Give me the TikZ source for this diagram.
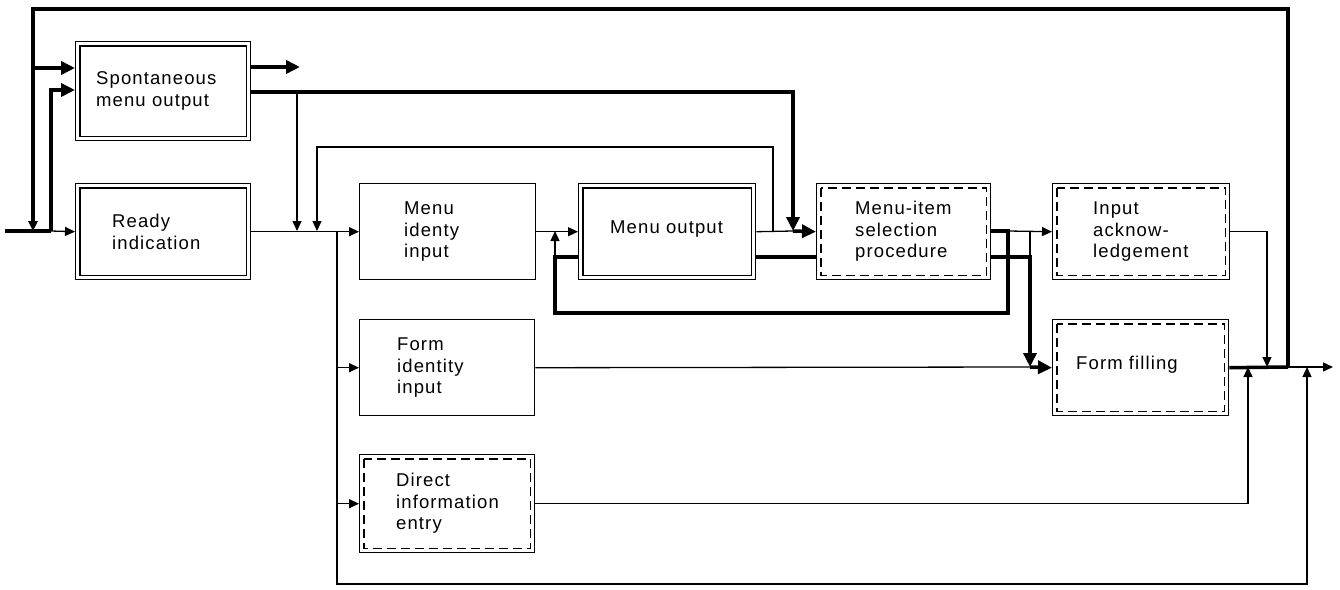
\documentclass[tikz,border=0pt]{standalone}
\usepackage{fontspec}
\setmainfont{Liberation Sans}[LetterSpace=6]
\usetikzlibrary{arrows.meta}
\tikzset{
  thinl/.style={line width=1.3pt},
  heavy/.style={line width=3.5pt},
  tip/.style={-{Triangle[length=10pt,width=9pt]}},
  bigtip/.style={-{Triangle[length=14pt,width=13pt]}},
  box/.style={draw, line width=1.4pt, anchor=north west, inner sep=0pt, minimum width=176pt, minimum height=96pt},
  innerdash/.style={line width=1.8pt, dash pattern=on 9pt off 5pt},
  innersolid/.style={line width=1.4pt},
  lbl/.style={anchor=west, align=left, inner sep=0pt, font=\fontsize{18.5}{21.5}\selectfont},
}
\begin{document}
\begin{tikzpicture}[x=1pt,y=-1pt]
\useasboundingbox (0,0) rectangle (1340,589);
% boxes
\node[box, minimum width=175pt, minimum height=99pt] (bS) at (75,41) {};
\node[box, minimum width=175pt] (bR) at (75,183) {};
\node[box] (bMII) at (359,183) {};
\node[box, minimum width=177pt] (bMO) at (578,183) {};
\node[box, minimum width=174pt] (bMIS) at (816,183) {};
\node[box, minimum width=177pt] (bIA) at (1052,183) {};
\node[box, minimum width=175pt] (bFII) at (359,319) {};
\node[box] (bFF) at (1052,319) {};
\node[box, minimum width=175pt, minimum height=98pt] (bDIE) at (359,454) {};
% inner borders
\foreach \b in {bS,bR,bMO}
  \draw[innersolid] ([shift={(5,5)}]\b.north west) rectangle ([shift={(-5,-5)}]\b.south east);
\foreach \b in {bMIS,bIA,bFF,bDIE}
  \draw[innerdash] ([shift={(5,5)}]\b.north west) rectangle ([shift={(-5,-5)}]\b.south east);
% labels
\node[lbl] (tS) at ([xshift=21pt]bS.west) {Spontaneous\\menu output};
\node[lbl] (tR) at ([xshift=37pt]bR.west) {Ready\\indication};
\node[lbl] (tMII) at ([xshift=45pt]bMII.west) {Menu\\identy\\input};
\node[lbl] (tMO) at ([xshift=32pt,yshift=3pt]bMO.west) {Menu output};
\node[lbl] (tMIS) at ([xshift=39pt]bMIS.west) {Menu-item\\selection\\procedure};
\node[lbl] (tIA) at ([xshift=41pt]bIA.west) {Input\\acknow-\\ledgement};
\node[lbl] (tFII) at ([xshift=38pt]bFII.west) {Form\\identity\\input};
\node[lbl] (tFF) at ([xshift=24pt,yshift=3pt]bFF.west) {Form filling};
\node[lbl] (tDIE) at ([xshift=37pt]bDIE.west) {Direct\\information\\entry};
% coordinates
\coordinate (in) at (5,231);
\coordinate (j1) at (33,231);
\coordinate (j2) at (51,231);
\coordinate (tl) at (33,9);
\coordinate (tr) at (1288,9);
\coordinate (s1) at (33,68);
\coordinate (s2) at (51,90);
\coordinate (so) at (300,67);
\coordinate (a92) at (793,92);
\coordinate (m231) at (793,231);
\coordinate (b92) at (297,92);
\coordinate (b231) at (297,231);
\coordinate (c147) at (773,147);
\coordinate (c231) at (773,231);
\coordinate (d147) at (317,147);
\coordinate (d231) at (317,231);
\coordinate (e231) at (337,231);
\coordinate (f584) at (1307,584);
\coordinate (f367) at (1307,367);
\coordinate (g231) at (555,231);
\coordinate (g257) at (555,257);
\coordinate (g313) at (555,313);
\coordinate (h231) at (1008,231);
\coordinate (h313) at (1008,313);
\coordinate (k231) at (1030,231);
\coordinate (k257) at (1030,257);
\coordinate (k367) at (1030,367);
\coordinate (r367) at (1288,367);
\coordinate (out) at (1333,367);
\coordinate (u367) at (1267,367);
\coordinate (v367) at (1248,367);
% connectors
\draw[heavy] (in) -- (j2);
\draw[thinl,tip] (j2) -- (bR.west);
\draw[heavy,tip] (r367) -- (tr) -- (tl) -- (j1);
\draw[heavy,bigtip] (s1) -- (s1 -| bS.west);
\draw[heavy,bigtip] (j2) |- (s2 -| bS.west);
\draw[heavy,bigtip] (so -| bS.east) -- (so);
\draw[heavy,bigtip] (a92 -| bS.east) -- (a92) -- (m231);
\draw[thinl,tip] (b92) -- (b231);
\draw[thinl,tip] (c231) -- (c147) -- (d147) -- (d231);
\draw[thinl,tip] (bR.east) -- (bMII.west);
\draw[thinl,tip] (e231) |- (f584) -- (f367);
\draw[thinl,tip] (e231 |- bFII.west) -- (bFII.west);
\draw[thinl,tip] (e231 |- bDIE.west) -- (bDIE.west);
\draw[thinl] (bFII.east) -- (k367);
\draw[heavy,bigtip] (k367) -- (bFF.west);
\draw[thinl,tip] (bDIE.east) -| (v367);
\draw[heavy] (bFF.east) -- (r367);
\draw[thinl,tip] (r367) -- (out);
\draw[thinl,tip] (bIA.east) -| (u367);
\draw[thinl,tip] (bMII.east) -- (bMO.west);
\draw[thinl,tip] (g257) -- (g231);
\draw[heavy] (bMO.west |- g257) -- (g257) -- (g313) -- (h313) -- (h231) -- (h231 -| bMIS.east);
\draw[heavy] (bMO.east |- g257) -- (bMIS.west |- g257);
\draw[thinl] (bMO.east) -- (m231);
\draw[heavy,bigtip] (m231) -- (bMIS.west);
\draw[thinl,tip] (h231) -- (bIA.west);
\draw[heavy,bigtip] (bMIS.east |- k257) -- (k257) -- (k367);
\draw[thinl] (k231) -- (k257);
\end{tikzpicture}
\end{document}
